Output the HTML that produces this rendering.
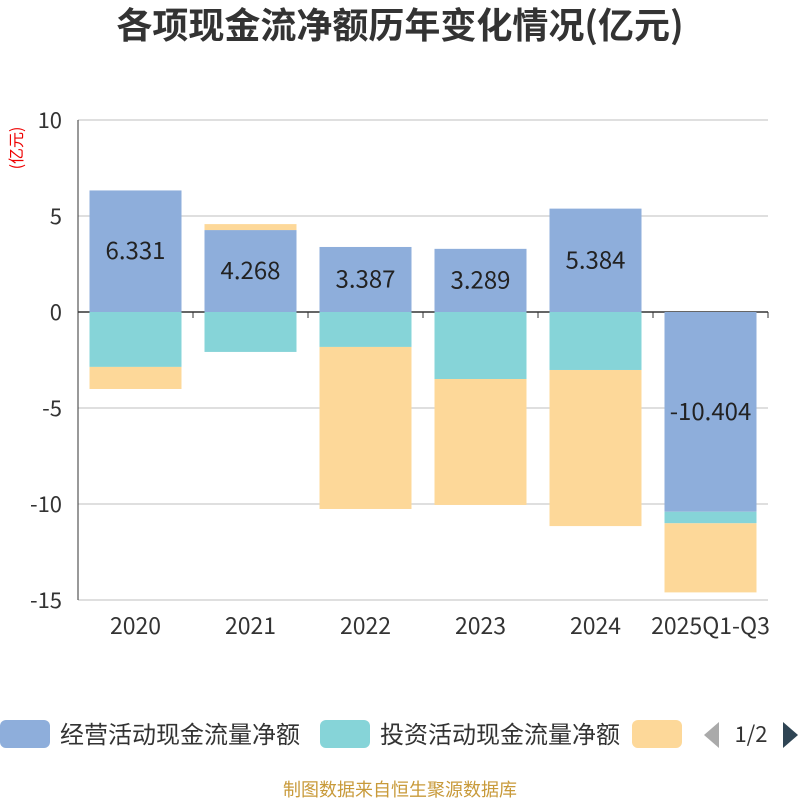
<!DOCTYPE html>
<html><head><meta charset="utf-8"><style>
body{margin:0;background:#fff;width:800px;height:800px;overflow:hidden;font-family:"Noto Sans CJK SC","Liberation Sans",sans-serif}
</style></head><body>
<svg id="c" width="800" height="800" xmlns="http://www.w3.org/2000/svg" font-family="Noto Sans CJK SC, Liberation Sans, sans-serif">
<text x="400" y="38" text-anchor="middle" font-size="36" font-weight="bold" fill="#333">各项现金流净额历年变化情况(亿元)</text>
<text transform="translate(22,148) rotate(-90)" text-anchor="middle" font-size="16" fill="#e00">(亿元)</text>
<g id="grid"></g><g id="bars"></g><g id="axes"></g>
<g>
<rect x="0" y="720" width="50" height="28" rx="6" fill="#8eaedb"/>
<text x="60" y="743" font-size="24" fill="#333">经营活动现金流量净额</text>
<rect x="320" y="720" width="50" height="28" rx="6" fill="#86d4d8"/>
<text x="380" y="743" font-size="24" fill="#333">投资活动现金流量净额</text>
<rect x="632" y="720" width="50" height="28" rx="6" fill="#fdd899"/>
<polygon points="719,722 719,748 704,735" fill="#aaa"/>
<text x="751" y="742" text-anchor="middle" font-size="22" fill="#333">1/2</text>
<polygon points="783,722 783,748 798,735" fill="#2f4554"/>
</g>
<text x="400" y="796" text-anchor="middle" font-size="18" fill="#c89a3a">制图数据来自恒生聚源数据库</text>
</svg>
<script>
const categories=["2020","2021","2022","2023","2024","2025Q1-Q3"];
const operating=[6.331,4.268,3.387,3.289,5.384,-10.404];
const investing=[-2.86,-2.08,-1.82,-3.49,-3.02,-0.6];
const financing=[-1.15,0.31,-8.44,-6.56,-8.13,-3.6];
const yTicks=[10,5,0,-5,-10,-15];
const NS="http://www.w3.org/2000/svg";
const X0=78,X1=768,Y0=120,Y1=600,yMax=10,yMin=-15;
const y=v=>Y0+(yMax-v)*(Y1-Y0)/(yMax-yMin);
const bw=(X1-X0)/categories.length;
const xc=i=>X0+bw*(i+0.5);
function mk(t,a,p){const e=document.createElementNS(NS,t);for(const k in a)e.setAttribute(k,a[k]);p.appendChild(e);return e;}
const g=document.getElementById('grid'),b=document.getElementById('bars'),ax=document.getElementById('axes');
yTicks.forEach(v=>{
const l=mk('line',{x1:X0,x2:X1,y1:y(v),y2:y(v),stroke:v===0?'#333':'#ccc','stroke-width':v===0?1.5:1.2},g);


const t=mk('text',{x:X0-16,y:y(v)+8,'text-anchor':'end','font-size':22,fill:'#333'},ax);
t.textContent=v;


});
mk('line',{x1:X0,x2:X0,y1:Y0,y2:Y1,stroke:'#333','stroke-width':1},ax);
for(let i=0;i<=categories.length;i++){const tk=mk('line',{x1:X0+bw*i,x2:X0+bw*i,y1:y(0),y2:y(0)+6,stroke:'#333'},ax);

}
const series=[[operating,'#8eaedb','operating'],[investing,'#86d4d8','investing'],[financing,'#fdd899','financing']];
categories.forEach((c,i)=>{
let pos=0,neg=0;
series.forEach(([arr,col,nm])=>{
const v=arr[i];let a,bb;
if(v>=0){a=pos;bb=pos+v;pos=bb;}else{a=neg;bb=neg+v;neg=bb;}
const r=mk('rect',{x:xc(i)-46,width:92,y:Math.min(y(a),y(bb)),height:Math.abs(y(a)-y(bb)),fill:col},b);


if(nm==='operating'){const t=mk('text',{x:xc(i),y:(y(a)+y(bb))/2+8,'text-anchor':'middle','font-size':24,fill:'#222'},b);
t.textContent=v.toFixed(3);

}
});
const t=mk('text',{x:xc(i),y:634,'text-anchor':'middle','font-size':23,fill:'#333'},ax);
t.textContent=c;


});
</script>
</body></html>
